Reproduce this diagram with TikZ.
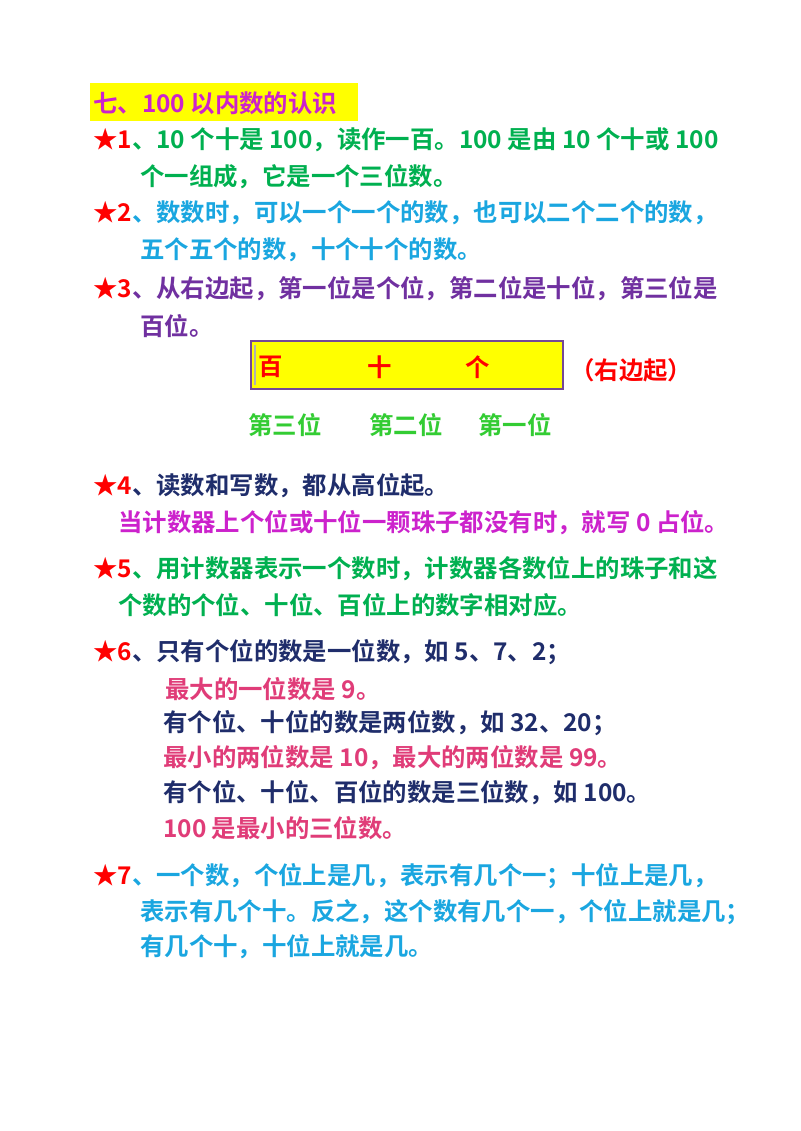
\documentclass[tikz,border=0pt]{standalone}
\usepackage{fontspec}
\setmainfont{Noto Sans CJK SC}[BoldFont={Noto Sans CJK SC Bold}]
\definecolor{cgreen}{HTML}{00B050}
\definecolor{cblue}{HTML}{1AA6E0}
\definecolor{cpurple}{HTML}{7030A0}
\definecolor{cnavy}{HTML}{1F2D6B}
\definecolor{cmag}{HTML}{CC22CC}
\definecolor{cpink}{HTML}{E03C78}
\definecolor{clgreen}{HTML}{33CC33}
\definecolor{cred}{HTML}{FF0000}
\definecolor{cyel}{HTML}{FFFF00}
\begin{document}
\begin{tikzpicture}[x=0.75pt,y=-0.75pt,
  t/.style={anchor=west,inner sep=0pt,font=\fontsize{18.3pt}{20pt}\selectfont\bfseries}]
\useasboundingbox (0,0) rectangle (800,1131);
\fill[white] (0,0) rectangle (800,1131);
\fill[cyel] (90,83) rectangle (358,121);
\node[t,text=cmag] (h) at (93,103) {七、100 以内数的认识};
\node[t,text=cgreen] (l1) at (93,140) {\textcolor{cred}{★1}、10 个十是 100，读作一百。100 是由 10 个十或 100};
\node[t,text=cgreen] (l1b) at (140,177) {个一组成，它是一个三位数。};
\node[t,text=cblue] (l2) at (93,213) {\textcolor{cred}{★2}、数数时，可以一个一个的数，也可以二个二个的数，};
\node[t,text=cblue] (l2b) at (140,250) {五个五个的数，十个十个的数。};
\node[t,text=cpurple] (l3) at (93,289) {\textcolor{cred}{★3}、从右边起，第一位是个位，第二位是十位，第三位是};
\node[t,text=cpurple] (l3b) at (140,326) {百位。};
\draw[fill=cyel,draw=cpurple!70!gray,line width=1.5pt] (251,341) rectangle (563,389);
\draw[gray!60,line width=0.8pt] (255,345) -- (255,385);
\node[t,text=cred] (b1) at (258,367) {百};
\node[t,text=cred] (b2) at (367,367) {十};
\node[t,text=cred] (b3) at (465,367) {个};
\node[t,text=cred] (rb) at (570,370) {（右边起）};
\node[t,text=clgreen] (p3) at (248,425) {第三位};
\node[t,text=clgreen] (p2) at (369,425) {第二位};
\node[t,text=clgreen] (p1) at (478,425) {第一位};
\node[t,text=cnavy] (l4) at (93,486) {\textcolor{cred}{★4}、读数和写数，都从高位起。};
\node[t,text=cmag] (l4b) at (118,523) {当计数器上个位或十位一颗珠子都没有时，就写 0 占位。};
\node[t,text=cgreen] (l5) at (93,569) {\textcolor{cred}{★5}、用计数器表示一个数时，计数器各数位上的珠子和这};
\node[t,text=cgreen] (l5b) at (118,605) {个数的个位、十位、百位上的数字相对应。};
\node[t,text=cnavy] (l6) at (93,652) {\textcolor{cred}{★6}、只有个位的数是一位数，如 5、7、2；};
\node[t,text=cpink] (l6a) at (165,689) {最大的一位数是 9。};
\node[t,text=cnavy] (l6b) at (163,723) {有个位、十位的数是两位数，如 32、20；};
\node[t,text=cpink] (l6c) at (163,758) {最小的两位数是 10，最大的两位数是 99。};
\node[t,text=cnavy] (l6d) at (163,793) {有个位、十位、百位的数是三位数，如 100。};
\node[t,text=cpink] (l6e) at (163,828) {100 是最小的三位数。};
\node[t,text=cblue] (l7) at (93,876) {\textcolor{cred}{★7}、一个数，个位上是几，表示有几个一；十位上是几，};
\node[t,text=cblue] (l7b) at (140,912) {表示有几个十。反之，这个数有几个一，个位上就是几；};
\node[t,text=cblue] (l7c) at (140,947) {有几个十，十位上就是几。};
\end{tikzpicture}
\end{document}
